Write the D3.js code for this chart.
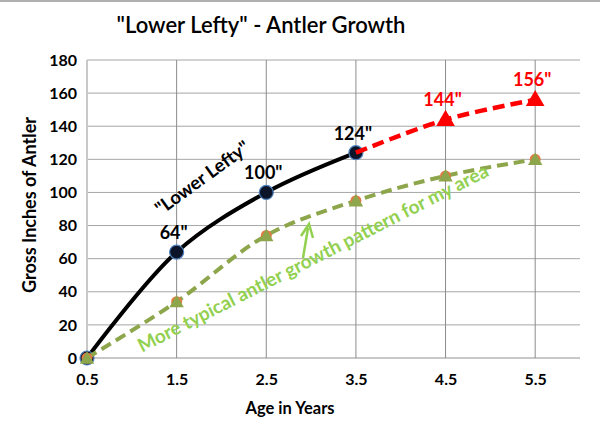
<!DOCTYPE html>
<html>
<head>
<meta charset="utf-8">
<script src="https://cdn.jsdelivr.net/npm/d3@7"></script>
<style>
  body { margin: 0; background: #fff; }
  text { font-family: Lato, "Open Sans", sans-serif; }
</style>
</head>
<body>
<div class="chart"></div>
<script>
// data
const ages = [0.5, 1.5, 2.5, 3.5, 4.5, 5.5];
const lefty = [0, 64, 100, 124];              // ages 0.5 - 3.5
const projected = [124, 144, 156];           // ages 3.5 - 5.5
const typical = [0, 34, 74, 95, 110, 120];   // ages 0.5 - 5.5
const leftyLabels = ['', '64"', '100"', '124"'];
const projLabels = ['', '144"', '156"'];
const yTicks = [0, 20, 40, 60, 80, 100, 120, 140, 160, 180];

const width = 600, height = 436;
const margin = {top: 60, right: 20, bottom: 78, left: 87};

const svg = d3.select('.chart')
    .append('svg')
    .attr('width', width)
    .attr('height', height);

// frame line at the top
svg.append('line')
    .attr('x1', 0).attr('x2', width)
    .attr('y1', 1).attr('y2', 1)
    .attr('stroke', '#b0b0b0').attr('stroke-width', 2);

const x = d3.scaleLinear()
    .domain([0.5, 6.0])
    .range([margin.left, width - margin.right]);
const y = d3.scaleLinear()
    .domain([0, 180])
    .range([height - margin.bottom, margin.top]);

// horizontal grid
svg.append('g')
    .selectAll('line')
    .data(yTicks)
    .enter()
    .append('line')
    .attr('x1', x(0.5)).attr('x2', x(6.0))
    .attr('y1', d => y(d)).attr('y2', d => y(d))
    .attr('stroke', d => d === 0 ? '#c8c8c8' : '#a6a6a6')
    .attr('stroke-width', d => d === 0 ? 2 : 1);

// vertical grid
svg.append('g')
    .selectAll('line')
    .data(ages)
    .enter()
    .append('line')
    .attr('x1', d => x(d)).attr('x2', d => x(d))
    .attr('y1', y(180)).attr('y2', y(0))
    .attr('stroke', d => d === 0.5 ? '#c8c8c8' : '#8c8c8c')
    .attr('stroke-width', d => d === 0.5 ? 2 : 1);

// axes (labels only)
const yAxis = svg.append('g')
    .attr('transform', 'translate(' + x(0.5) + ',0)')
    .call(d3.axisLeft(y).tickValues(yTicks).tickSize(0).tickPadding(10));
const xAxis = svg.append('g')
    .attr('transform', 'translate(0,' + y(0) + ')')
    .call(d3.axisBottom(x).tickValues(ages).tickFormat(d3.format('.1f')).tickSize(0).tickPadding(16));
[yAxis, xAxis].forEach(a => {
    a.select('.domain').remove();
    a.selectAll('text')
        .attr('font-family', 'Lato, sans-serif')
        .attr('font-size', 16)
        .attr('font-weight', 'bold')
        .attr('fill', '#000');
});

// titles
svg.append('text')
    .attr('x', 261).attr('y', 33)
    .attr('text-anchor', 'middle')
    .attr('font-size', 22)
    .attr('font-weight', 600)
    .text('"Lower Lefty" - Antler Growth');
svg.append('text')
    .attr('x', 290).attr('y', 414)
    .attr('text-anchor', 'middle')
    .attr('font-size', 16.5)
    .attr('font-weight', 'bold')
    .text('Age in Years');
svg.append('text')
    .attr('transform', 'translate(36,205) rotate(-90)')
    .attr('text-anchor', 'middle')
    .attr('font-size', 18)
    .attr('font-weight', 'bold')
    .text('Gross Inches of Antler');

const line = d3.line()
    .x(d => x(d[0]))
    .y(d => y(d[1]))
    .curve(d3.curveCatmullRom.alpha(0.5));

const leftyPts = lefty.map((v, i) => [ages[i], v]);
const projPts = projected.map((v, i) => [ages[i + 3], v]);
const typPts = typical.map((v, i) => [ages[i], v]);

// black line
svg.append('path')
    .datum(leftyPts)
    .attr('fill', 'none')
    .attr('stroke', '#000')
    .attr('stroke-width', 4)
    .attr('d', line);

svg.selectAll('.dot')
    .data(leftyPts)
    .enter()
    .append('circle')
    .attr('class', 'dot')
    .attr('cx', d => x(d[0]))
    .attr('cy', d => y(d[1]))
    .attr('r', 7)
    .attr('fill', '#0b1428')
    .attr('stroke', '#4f81bd')
    .attr('stroke-width', 1.2);

// red projection
svg.append('path')
    .datum(projPts)
    .attr('fill', 'none')
    .attr('stroke', '#ff0000')
    .attr('stroke-width', 4.5)
    .attr('stroke-dasharray', '12,6')
    .attr('d', line);

const tri = d3.symbol().type(d3.symbolTriangle);
svg.selectAll('.ptri')
    .data(projPts.slice(1))
    .enter()
    .append('path')
    .attr('class', 'ptri')
    .attr('transform', d => 'translate(' + x(d[0]) + ',' + (y(d[1]) + 1) + ')')
    .attr('d', tri.size(150))
    .attr('fill', '#ff0000');

// green typical
svg.append('path')
    .datum(typPts)
    .attr('fill', 'none')
    .attr('stroke', '#8ea64b')
    .attr('stroke-width', 4)
    .attr('stroke-dasharray', '11,6')
    .attr('d', line);

svg.selectAll('.tdot')
    .data(typPts)
    .enter()
    .append('circle')
    .attr('class', 'tdot')
    .attr('cx', d => x(d[0]))
    .attr('cy', d => y(d[1]))
    .attr('r', 5.5)
    .attr('fill', '#e07b45');
svg.selectAll('.ttri')
    .data(typPts)
    .enter()
    .append('path')
    .attr('class', 'ttri')
    .attr('transform', d => 'translate(' + x(d[0]) + ',' + (y(d[1]) + 1.5) + ')')
    .attr('d', tri.size(90))
    .attr('fill', '#8ea64b');

// value labels
svg.selectAll('.llab')
    .data(leftyPts)
    .enter()
    .append('text')
    .attr('class', 'llab')
    .attr('x', d => x(d[0]) - 3)
    .attr('y', d => y(d[1]) - 13)
    .attr('text-anchor', 'middle')
    .attr('font-size', 18)
    .attr('font-weight', 'bold')
    .text((d, i) => leftyLabels[i]);
svg.selectAll('.plab')
    .data(projPts)
    .enter()
    .append('text')
    .attr('class', 'plab')
    .attr('x', d => x(d[0]) - 3)
    .attr('y', d => y(d[1]) - 14)
    .attr('text-anchor', 'middle')
    .attr('font-size', 18)
    .attr('font-weight', 'bold')
    .attr('fill', '#ff0000')
    .text((d, i) => projLabels[i]);

// annotations
svg.append('text')
    .attr('transform', 'translate(206,183) rotate(-36)')
    .attr('text-anchor', 'middle')
    .attr('font-size', 18.5)
    .attr('font-weight', 'bold')
    .text('"Lower Lefty"');
svg.append('text')
    .attr('transform', 'translate(316,264) rotate(-27)')
    .attr('text-anchor', 'middle')
    .attr('font-size', 19)
    .attr('font-weight', 'bold')
    .attr('fill', '#92d050')
    .text('More typical antler growth pattern for my area');

// arrow
svg.append('line')
    .attr('x1', 303).attr('y1', 258)
    .attr('x2', 308).attr('y2', 228)
    .attr('stroke', '#92d050')
    .attr('stroke-width', 2.5);
svg.append('path')
    .attr('d', 'M301,236 L309,224 L313,238')
    .attr('fill', 'none')
    .attr('stroke', '#92d050')
    .attr('stroke-width', 2.5);
</script>
</body>
</html>
